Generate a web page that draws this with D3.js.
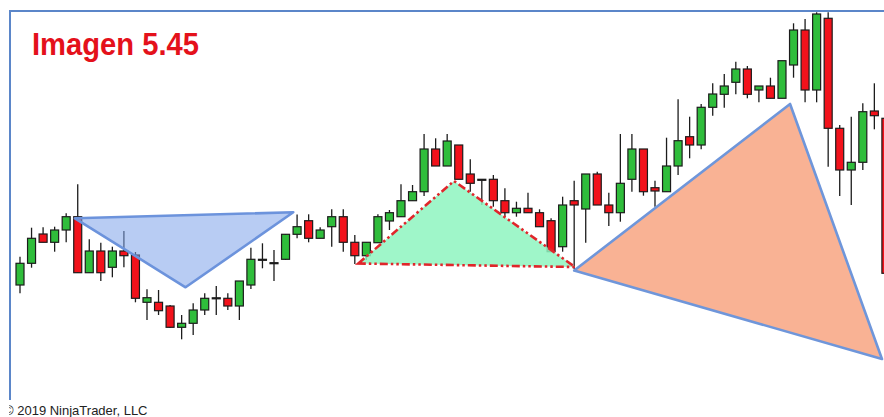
<!DOCTYPE html>
<html>
<head>
<meta charset="utf-8">
<script src="https://cdn.jsdelivr.net/npm/d3@7/dist/d3.min.js"></script>
<style>
  html, body { margin: 0; padding: 0; background: #fff; }
  svg { display: block; }
</style>
</head>
<body>
<script>
// Daily bars (bar number, open, high, low, close)
const bars = [
  1,2,3,4,5,6,7,8,9,10,11,12,13,14,15,16,17,18,19,20,
  21,22,23,24,25,26,27,28,29,30,31,32,33,34,35,36,37,38,39,40,
  41,42,43,44,45,46,47,48,49,50,51,52,53,54,55,56,57,58,59,60,
  61,62,63,64,65,66,67,68,69,70,71,72,73,74,75,76
];
const open = [
  11.50,13.67,16.60,15.77,17.00,18.33,12.73,14.90,13.27,14.90,
  14.50,9.77,9.77,9.40,7.27,7.67,9.00,10.22,10.17,9.40,
  11.50,14.07,13.73,14.07,16.57,17.93,16.17,17.33,18.33,15.77,
  14.43,15.73,17.90,18.33,19.93,20.83,25.10,23.40,25.50,22.60,
  22.07,22.07,19.93,18.73,19.17,18.73,17.93,15.33,19.93,19.10,
  22.60,19.50,18.73,22.07,25.10,21.23,20.83,23.40,26.33,25.50,
  29.27,30.57,31.77,33.10,31.00,31.40,30.17,33.50,37.00,31.00,
  38.17,27.17,23.00,23.77,28.90,28.17
];
const high = [
  14.33,17.23,17.27,17.33,18.67,21.57,16.07,15.73,15.33,16.90,
  14.80,11.07,11.00,9.50,8.50,9.67,10.67,11.40,10.67,11.90,
  15.23,15.67,15.00,16.60,18.55,18.57,17.27,19.07,19.07,16.50,
  15.77,18.57,19.00,21.57,21.50,26.60,26.17,26.60,25.50,24.07,
  22.07,22.50,21.17,19.83,20.73,19.07,18.17,20.33,21.93,22.60,
  22.83,20.73,26.60,26.60,25.10,21.93,26.23,30.07,28.33,29.60,
  31.67,32.60,33.83,33.40,31.40,32.23,33.93,37.67,38.10,38.77,
  38.77,27.50,28.33,29.67,31.67,28.50
];
const low = [
  10.67,13.23,15.77,14.83,15.77,12.73,12.73,11.90,12.27,13.27,
  9.77,8.00,8.50,7.20,6.07,6.50,8.50,8.50,9.00,8.00,
  11.10,13.17,11.90,14.00,16.17,15.77,16.17,15.33,14.83,13.60,
  14.00,15.73,17.00,18.33,19.93,20.40,23.40,23.40,22.07,20.83,
  19.50,19.33,18.33,18.33,18.73,17.33,14.83,14.83,13.10,15.73,
  19.50,17.40,17.83,20.83,20.43,19.33,20.83,22.50,24.17,25.07,
  28.43,29.23,30.57,30.17,29.77,30.17,30.17,32.23,29.77,29.77,
  23.33,20.40,19.50,23.00,27.07,12.50
];
const close = [
  13.67,16.17,15.77,17.00,18.33,12.73,14.90,12.73,14.90,14.43,
  10.17,10.23,8.93,7.27,7.67,9.00,10.17,10.22,9.40,11.90,
  14.07,14.07,13.73,16.57,17.33,16.17,17.00,18.33,15.77,14.43,
  15.77,18.33,18.73,19.93,20.83,25.10,23.40,25.90,22.07,21.67,
  22.07,19.93,18.73,19.17,18.73,17.33,14.83,19.50,19.50,22.60,
  19.50,18.73,21.67,25.10,20.83,20.90,23.40,25.93,25.50,29.27,
  30.60,31.40,33.10,30.57,31.40,30.17,33.93,37.00,31.00,38.60,
  27.17,23.00,23.77,28.83,28.43,12.67
];

// Triangle drawing objects: anchor points as [bar position, price]
const triangleBlue   = [[5.76, 18.17], [24.67, 18.77], [15.34, 11.27]];
const triangleGreen  = [[30.30, 13.65], [38.59, 21.90], [49.07, 13.30]];
const triangleOrange = [[49.00, 12.95], [67.70, 29.60], [75.66, 4.10]];

const titleText = "Imagen 5.45";
const copyrightText = "\u00A9 2019 NinjaTrader, LLC";

const W = 884, H = 417;
const svg = d3.select("body").append("svg").attr("width", W).attr("height", H);

const x = d3.scaleLinear().domain([1, 76]).range([20, 885.9]);
const y = d3.scaleLinear().domain([0, 40]).range([400, 0]);

const candles = bars.map((b, i) => ({
  bar: b, o: open[i], h: high[i], l: low[i], c: close[i]
}));

const upColor = "#2fbd3b", downColor = "#f2121b", outline = "#1c1c1c";
const bodyW = 8;

const line = d3.line().x(d => x(d[0])).y(d => y(d[1])).curve(d3.curveLinearClosed);

// Candles
const gC = svg.append("g");
gC.selectAll("line.wick").data(candles).join("line")
  .attr("class", "wick")
  .attr("x1", d => x(d.bar)).attr("x2", d => x(d.bar))
  .attr("y1", d => y(d.h)).attr("y2", d => y(d.l))
  .attr("stroke", outline).attr("stroke-width", 1.3);
gC.selectAll("rect.body").data(candles).join("rect")
  .attr("class", "body")
  .attr("x", d => x(d.bar) - bodyW / 2)
  .attr("width", bodyW)
  .attr("y", d => y(Math.max(d.o, d.c)))
  .attr("height", d => Math.max(1, Math.abs(y(d.o) - y(d.c))))
  .attr("fill", d => d.c > d.o ? upColor : (d.c < d.o ? downColor : outline))
  .attr("stroke", outline).attr("stroke-width", 1.2);

// Drawing objects on top of the price bars
svg.append("path").attr("d", line(triangleBlue))
  .attr("fill", "#7da2ea").attr("fill-opacity", 0.55)
  .attr("stroke", "#6c93dc").attr("stroke-width", 2.6).attr("stroke-linejoin", "round");

svg.append("path").attr("d", line(triangleGreen))
  .attr("fill", "#8ef5bf").attr("fill-opacity", 0.85)
  .attr("stroke", "#e0262b").attr("stroke-width", 2.6)
  .attr("stroke-dasharray", "8,3,2.5,3,2.5,3");

svg.append("path").attr("d", line(triangleOrange))
  .attr("fill", "#f9b294").attr("fill-opacity", 1)
  .attr("stroke", "#6f96da").attr("stroke-width", 2.6).attr("stroke-linejoin", "round");

// Panel frame
svg.append("line").attr("x1", 9).attr("x2", W).attr("y1", 11).attr("y2", 11)
  .attr("stroke", "#5b86c9").attr("stroke-width", 2);
svg.append("line").attr("x1", 10).attr("x2", 10).attr("y1", 10).attr("y2", 400)
  .attr("stroke", "#5b86c9").attr("stroke-width", 2);

// Title
svg.append("text")
  .attr("x", 32).attr("y", 55)
  .attr("font-family", "'Liberation Sans', Arial, sans-serif")
  .attr("font-weight", "bold").attr("font-size", 32)
  .attr("textLength", 167).attr("lengthAdjust", "spacingAndGlyphs")
  .attr("fill", "#e4111b")
  .text(titleText);

// Copyright line
svg.append("clipPath").attr("id", "cpClip")
  .append("rect").attr("x", 9).attr("y", 395).attr("width", 300).attr("height", 22);
svg.append("text")
  .attr("x", 4).attr("y", 415)
  .attr("clip-path", "url(#cpClip)")
  .attr("font-family", "'Liberation Sans', Arial, sans-serif")
  .attr("font-size", 13)
  .attr("fill", "#222")
  .text(copyrightText);
</script>
</body>
</html>
